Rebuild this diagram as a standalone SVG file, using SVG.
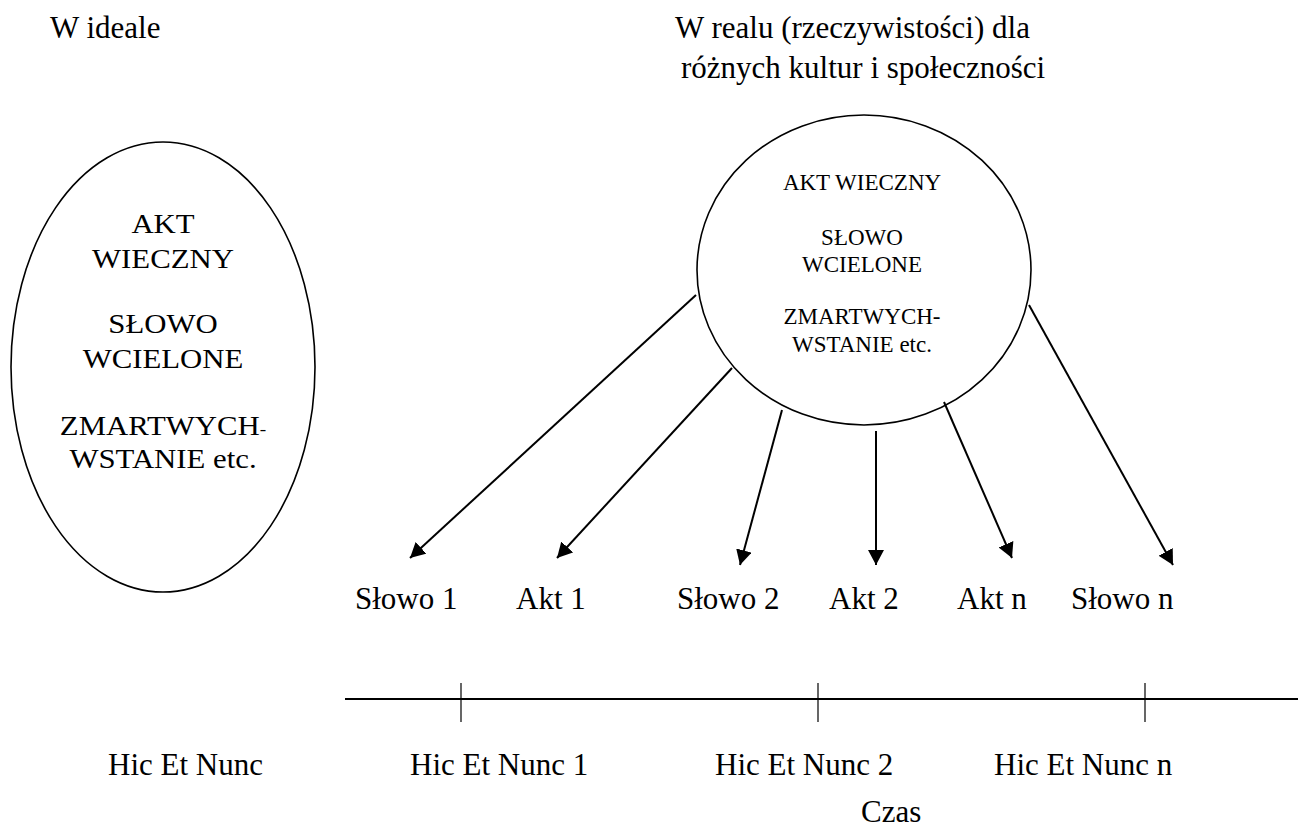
<svg xmlns="http://www.w3.org/2000/svg" width="1298" height="831" viewBox="0 0 1298 831">
<style>
text{font-family:"Liberation Serif","Times New Roman",serif;fill:#000}
.t{font-size:31px}
.in{font-size:23px;text-anchor:middle}
.big{font-size:27px;text-anchor:middle}
.shape{fill:#fff;stroke:#000;stroke-width:1.6}
.arr{stroke:#000;stroke-width:2;fill:none;marker-end:url(#ah)}
.tick{stroke:#000;stroke-width:1.2}
</style>
<defs>
<marker id="ah" markerUnits="userSpaceOnUse" markerWidth="16" markerHeight="16" refX="15" refY="8" orient="auto" viewBox="0 0 16 16">
<path d="M0,0 L15,8 L0,16 z" fill="#000"/>
</marker>
</defs>
<rect width="1298" height="831" fill="#fff"/>
<g id="title-ideal"><text class="t" x="50" y="38">W ideale</text></g>
<g id="title-real">
<text class="t" x="675" y="38">W realu (rzeczywistości) dla</text>
<text class="t" x="681" y="78">różnych kultur i społeczności</text>
</g>
<g id="ideal">
<ellipse class="shape" cx="163" cy="367" rx="152" ry="225"/>
<g transform="translate(163,0) scale(1.14,1)">
<text class="big" x="0" y="233">AKT</text>
<text class="big" x="0" y="268">WIECZNY</text>
<text class="big" x="0" y="333">SŁOWO</text>
<text class="big" x="0" y="368">WCIELONE</text>
<text class="big" x="0" y="435">ZMARTWYCH<tspan font-size="17">-</tspan></text>
<text class="big" x="0" y="468">WSTANIE etc.</text>
</g>
</g>
<g id="real">
<ellipse class="shape" cx="864" cy="270" rx="167" ry="155"/>
<text class="in" x="862" y="190">AKT WIECZNY</text>
<text class="in" x="862" y="245">SŁOWO</text>
<text class="in" x="862" y="272">WCIELONE</text>
<text class="in" x="862" y="324">ZMARTWYCH-</text>
<text class="in" x="862" y="352">WSTANIE etc.</text>
</g>
<g id="connectors">
<line class="arr" x1="696" y1="295" x2="410" y2="558"/>
<line class="arr" x1="732" y1="368" x2="557" y2="558"/>
<line class="arr" x1="782" y1="410" x2="740" y2="565"/>
<line class="arr" x1="876" y1="431" x2="876" y2="565"/>
<line class="arr" x1="944" y1="402" x2="1012" y2="558"/>
<line class="arr" x1="1029" y1="305" x2="1173" y2="565"/>
</g>
<g id="labels">
<text class="t" x="355" y="609">Słowo 1</text>
<text class="t" x="516" y="609">Akt 1</text>
<text class="t" x="677" y="609">Słowo 2</text>
<text class="t" x="829" y="609">Akt 2</text>
<text class="t" x="957" y="609">Akt n</text>
<text class="t" x="1071" y="609">Słowo n</text>
</g>
<g id="timeline">
<line x1="345" y1="699" x2="1298" y2="699" stroke="#000" stroke-width="2"/>
<line class="tick" x1="461" y1="683" x2="461" y2="722"/>
<line class="tick" x1="818" y1="683" x2="818" y2="722"/>
<line class="tick" x1="1145" y1="683" x2="1145" y2="722"/>
</g>
<g id="time-labels">
<text class="t" x="108" y="775">Hic Et Nunc</text>
<text class="t" x="410" y="775">Hic Et Nunc 1</text>
<text class="t" x="715" y="775">Hic Et Nunc 2</text>
<text class="t" x="994" y="775">Hic Et Nunc n</text>
<text class="t" x="861" y="822">Czas</text>
</g>
</svg>
